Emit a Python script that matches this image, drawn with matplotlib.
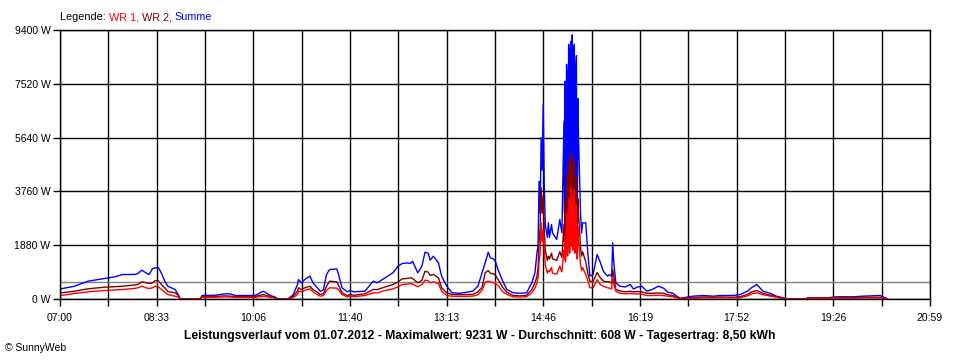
import matplotlib
matplotlib.use("Agg")
import matplotlib.pyplot as plt

# minutes after 07:00
t_min = [1, 14, 27, 43, 53, 60, 72, 75, 79, 84, 86, 89, 92, 95, 98, 101, 104, 108, 111, 114,
         116, 135, 137, 149, 159, 164, 169, 188, 196, 203, 208, 210, 220, 225, 229, 230, 233,
         236, 241, 244, 248, 251, 254, 257, 260, 267, 269, 272, 277, 280, 283, 294, 302, 306,
         311, 321, 326, 330, 335, 338, 340, 345, 349, 352, 355, 357, 360, 365, 368, 373, 378,
         386, 398, 403, 407, 410, 413, 415, 418, 420, 423, 427, 431, 437, 444, 450, 455, 458,
         460, 461, 462, 463, 464, 465, 466, 467, 468, 470, 471, 472, 474, 475, 479, 482, 484,
         486, 486.5, 487, 487.5, 488, 488.5, 489, 489.5, 490, 490.5, 491, 491.5, 492, 492.5,
         493, 493.5, 494, 494.5, 495, 495.5, 496, 496.5, 497, 497.5, 498, 498.5, 499, 499.5,
         500, 502, 503,
         504, 507, 509, 511, 514, 518, 521, 524, 528, 530, 532, 533, 534, 536, 540, 545, 550,
         553, 557, 561, 566, 571, 577, 582, 586, 591, 598, 601, 610, 620, 630, 636, 649, 656,
         663, 667, 672, 678, 685, 691, 697, 701, 720, 721, 740, 749, 765, 774, 791, 796, 798]

summe = [356, 447, 622, 716, 775, 856, 856, 891, 1006, 891, 856, 1055, 1090, 1090, 891, 622,
         447, 380, 332, 157, 0, 0, 122, 130, 180, 180, 122, 122, 272, 122, 60, 0, 0, 157, 507,
         681, 560, 681, 797, 566, 400, 272, 320, 856, 1030, 1050, 800, 390, 250, 300, 250, 272,
         622, 566, 681, 915, 1146, 1240, 1260, 1240, 1321, 915, 1146, 1635, 1600, 1356, 1495,
         1265, 797, 447, 216, 200, 272, 447, 915, 1265, 1635, 1439, 1400, 1300, 971, 622, 332,
         216, 200, 216, 566, 915, 1625, 1845, 4116, 3000, 5640, 4500, 6795, 4000, 2600, 2150,
         2670, 2150, 2600, 2310, 2080, 2780, 2310,
         6213, 3000, 7610, 2600, 3500, 8200, 7800, 2400, 4500, 8900, 8700, 2200, 5500, 9000,
         8830, 3000, 9231, 2500, 5000, 8700, 8900, 2400, 4200, 8000, 8500, 2000, 3800, 7000,
         5690, 2950, 2310, 2660, 2660, 1614, 800, 850,
         1555, 1286, 971, 797, 850, 800, 1963, 1300, 566, 447, 420, 507, 350, 420, 447, 272, 332,
         447, 380, 238, 200, 20, 42, 98, 122, 98, 122, 122, 157, 272, 400, 507, 272, 200, 98,
         42, 0, 0, 42, 42, 77, 77, 98, 122, 42, 0]

wr2 = [216, 272, 356, 412, 430, 447, 490, 507, 601, 560, 541, 560, 646, 630, 500, 391, 260,
       238, 220, 130, 0, 0, 80, 85, 110, 100, 80, 85, 157, 80, 40, 0, 0, 98, 272, 391, 330, 391,
       447, 330, 240, 157, 190, 447, 622, 600, 450, 216, 122, 160, 130, 181, 332, 330, 391, 507,
       600, 705, 720, 740, 720, 566, 650, 971, 940, 821, 860, 740, 391, 216, 157, 150, 160, 250,
       400, 915, 996, 900, 880, 830, 650, 400, 238, 122, 110, 130, 332, 560, 797, 1100, 2000,
       2500, 3885, 3000, 3600, 2400, 1700, 1350, 1500, 1400, 1600, 1400, 1350, 1650, 1450,
       2600, 2000, 3400, 1900, 2300, 4400, 4200, 2000, 2600, 4600, 4800, 2100, 3000, 5000,
       5100, 2600, 4700, 2300, 2900, 4800, 4900, 2200, 2500, 4300, 4000, 1900, 2600, 3500,
       3000, 1800, 1500, 1650, 1300, 900, 622, 600, 925, 740, 622, 600, 600, 550, 1030, 800,
       332, 280, 250, 270, 250, 260, 250, 200, 200, 210, 200, 150, 120, 15, 30, 50, 70, 60, 70,
       60, 80, 160, 250, 297, 200, 130, 80, 30, 0, 0, 35, 40, 50, 50, 60, 60, 30, 0]

wr1 = [122, 192, 250, 297, 315, 332, 370, 391, 447, 380, 367, 390, 447, 420, 330, 238, 157,
       120, 98, 70, 0, 0, 60, 60, 75, 70, 60, 55, 98, 60, 30, 0, 0, 50, 157, 272, 250, 300, 356,
       250, 160, 98, 120, 300, 391, 380, 300, 157, 77, 100, 80, 122, 216, 210, 272, 356, 420,
       507, 520, 541, 520, 430, 500, 657, 640, 566, 600, 540, 272, 122, 98, 90, 100, 150, 300,
       587, 622, 600, 570, 540, 450, 250, 157, 77, 70, 85, 216, 380, 566, 750, 1300, 1600, 2662,
       2000, 2400, 1700, 1200, 900, 1000, 950, 1100, 900, 870, 1150, 950,
       1700, 1400, 2200, 1300, 1600, 3000, 2900, 1500, 1800, 3300, 3500, 1600, 2100, 3800,
       3900, 1900, 3600, 1700, 2000, 3700, 3800, 1600, 1700, 3300, 3100, 1400, 1800, 2500,
       2100, 1200, 1000, 1100, 850,
       650, 400, 380, 680, 507, 447, 391, 380, 350, 750, 550, 272, 200, 180, 190, 180, 180, 170,
       120, 120, 130, 120, 100, 80, 10, 20, 30, 40, 40, 40, 40, 50, 110, 180, 216, 150, 100, 60,
       20, 0, 0, 25, 25, 30, 30, 35, 35, 20, 0]

average = 608
day_minutes = 839
x_labels = ["07:00", "08:33", "10:06", "11:40", "13:13", "14:46", "16:19", "17:52", "19:26", "20:59"]
y_ticks = [0, 1880, 3760, 5640, 7520, 9400]

plt.rcParams['font.family'] = ['Liberation Sans', 'DejaVu Sans']

fig = plt.figure(figsize=(9.6, 3.6), dpi=100)
ax = fig.add_axes([60 / 960, 61 / 360, 870 / 960, 269 / 360])

ax.plot(t_min, summe, color='#0000ff', lw=1, zorder=3)
ax.plot(t_min, wr2, color='#800000', lw=1, zorder=4)
ax.plot(t_min, wr1, color='#ff0000', lw=1, zorder=5)
ax.axhline(average, color='#808080', lw=1, zorder=2)

ax.set_xlim(0, day_minutes)
ax.set_ylim(0, 9400)
xt = [k * day_minutes / 18 for k in range(19)]
ax.set_xticks(xt)
ax.set_xticklabels([x_labels[k // 2] if k % 2 == 0 else "" for k in range(19)])
ax.set_yticks(y_ticks)
ax.set_yticklabels(["%d W" % v for v in y_ticks])
ax.grid(True, color='black', lw=1, zorder=1)
ax.set_axisbelow(True)
ax.tick_params(direction='out', length=5, width=1, color='black', labelsize=7.5, pad=2)
ax.tick_params(axis='x', pad=5)
for s in ax.spines.values():
    s.set_color('black')
    s.set_linewidth(1)
    s.set_zorder(6)

fig.text(0.5, 1 - 336 / 360, "Leistungsverlauf vom 01.07.2012 - Maximalwert: 9231 W - "
         "Durchschnitt: 608 W - Tagesertrag: 8,50 kWh",
         ha='center', va='center', fontsize=8.7, fontweight='bold')
fig.text(5 / 960, 1 - 348 / 360, "\u00a9 SunnyWeb", ha='left', va='center', fontsize=7.5)

# legend as coloured text pieces
renderer = fig.canvas.get_renderer()
xpos = 60 / 960
for txt, col in [("Legende: ", 'black'), ("WR 1, ", '#ff0000'), ("WR 2, ", '#800000'),
                 ("Summe", '#0000ff')]:
    t = fig.text(xpos, 1 - 17 / 360, txt, color=col, fontsize=7.8, ha='left', va='center')
    bb = t.get_window_extent(renderer)
    xpos += bb.width / fig.bbox.width

fig.savefig("out.png", dpi=100)
